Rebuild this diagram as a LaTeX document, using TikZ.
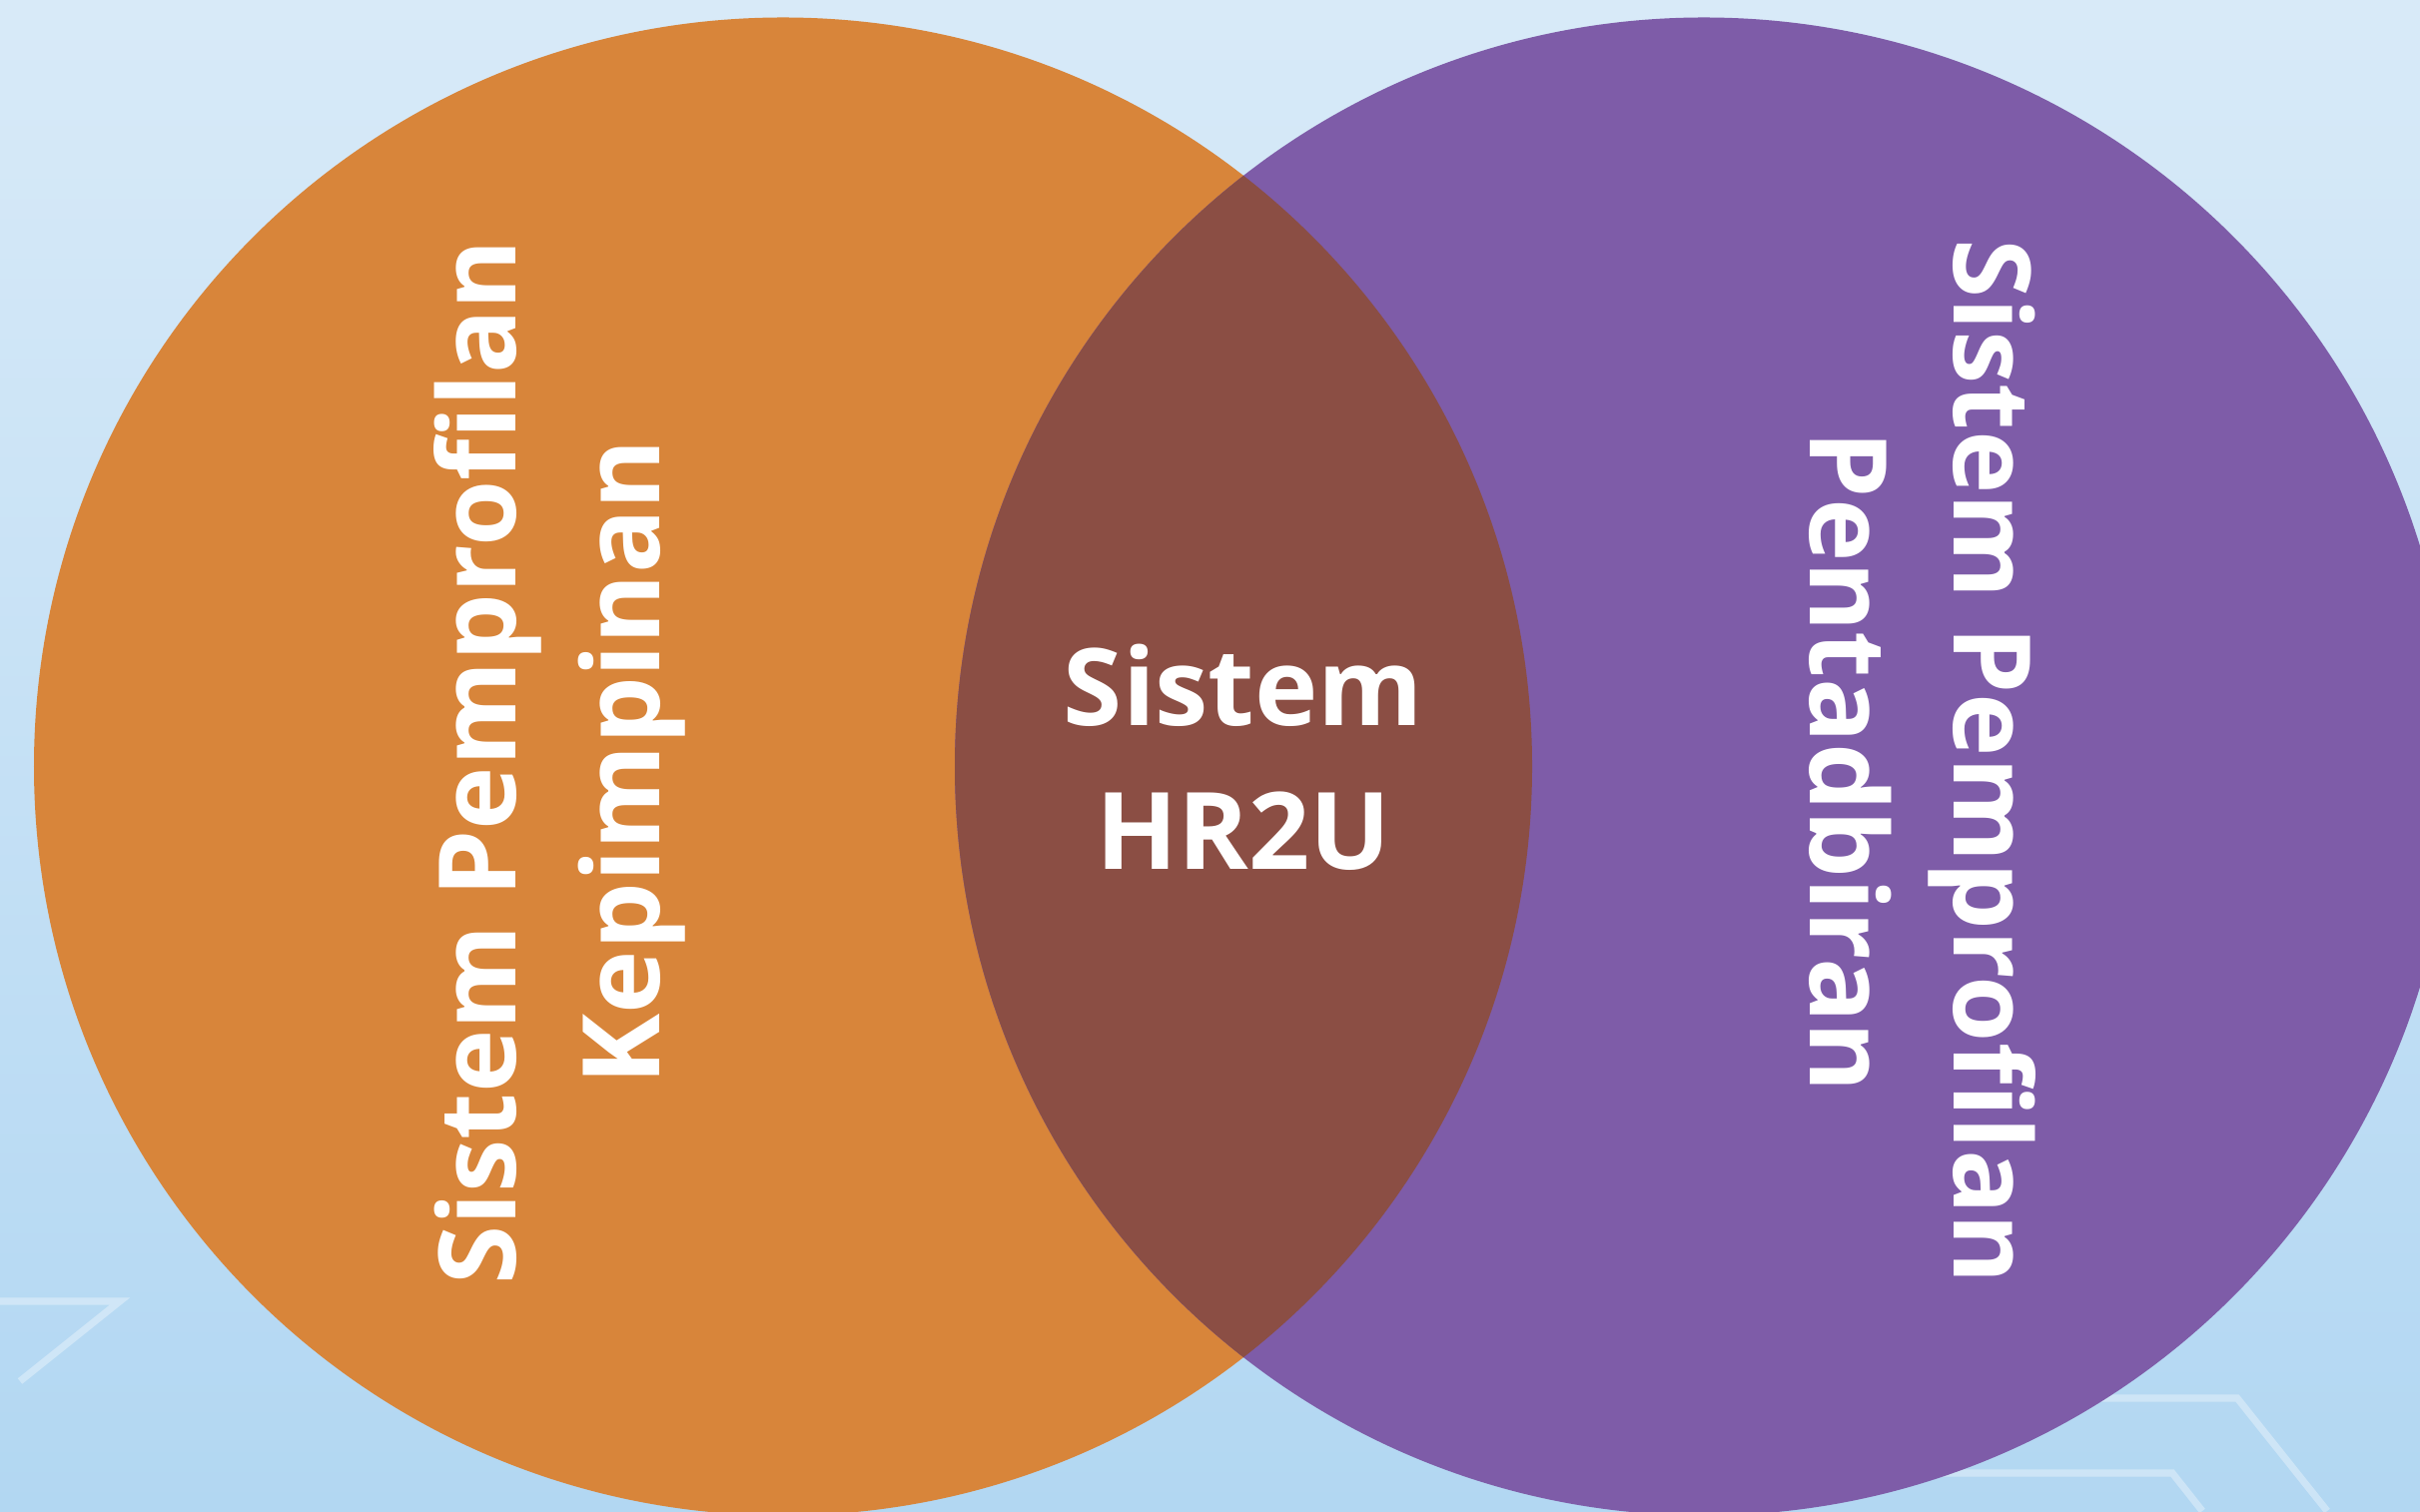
\documentclass[tikz,border=0pt]{standalone}
\usepackage{fontspec}
\setmainfont{Open Sans}
\usetikzlibrary{positioning}
\definecolor{skytop}{HTML}{D8EAF8}
\definecolor{skybottom}{HTML}{B2D7F2}
\definecolor{keporange}{HTML}{D8853A}
\definecolor{penpurple}{HTML}{7E5CA8}
\definecolor{hrbrown}{HTML}{8B4E44}
\tikzset{
every node/.style={text=white}, % all labels are white
bigset/.style={circle, minimum size=15cm, inner sep=0pt}, % one set of the diagram
setlabel/.style={font=\bfseries\fontsize{30.5}{41}\selectfont, align=center}, % big bold labels
trace/.style={white, opacity=0.35, line width=2pt}, % faint circuit lines of the background
}

\begin{document}
\begin{tikzpicture}
    \useasboundingbox (0,0) rectangle (24.23,15.13);
    \shade[top color=skytop, bottom color=skybottom] (0,0) rectangle (24.23,15.13);
    % faint circuit traces
    \coordinate (t1) at (20.7,1.13);
    \coordinate (t2) at (22.4,1.13);
    \coordinate (t3) at (23.3,0);
    \coordinate (t4) at (18.9,0.38);
    \coordinate (t5) at (21.75,0.38);
    \coordinate (t6) at (22.05,0);
    \draw[trace] (t1) -- (t2) -- (t3);
    \draw[trace] (t4) -- (t5) -- (t6);
    \coordinate (t7) at (0,2.1);
    \coordinate (t8) at (1.2,2.1);
    \coordinate (t9) at (0.2,1.3);
    \draw[trace] (t7) -- (t8) -- (t9);
    % the two sets
    \node[bigset, fill=keporange] (kep) at (7.84,7.455) {};
    \node[bigset, fill=penpurple] (pen) at (17.06,7.455) {};
    % the overlap
    \begin{scope}
        \clip (kep.center) circle (7.5);
        \fill[hrbrown] (pen.center) circle (7.5);
    \end{scope}
    \node[setlabel, rotate=90] (keplabel) at (5.6,7.5) {Sistem Pemprofilan\\Kepimpinan};
    \node[setlabel, rotate=-90] (penlabel) at (19.25,7.5) {Sistem Pemprofilan\\Pentadbiran};
    \node[setlabel] (hr2u) at (12.45,7.55) {Sistem\\HR2U};
\end{tikzpicture}
\end{document}
